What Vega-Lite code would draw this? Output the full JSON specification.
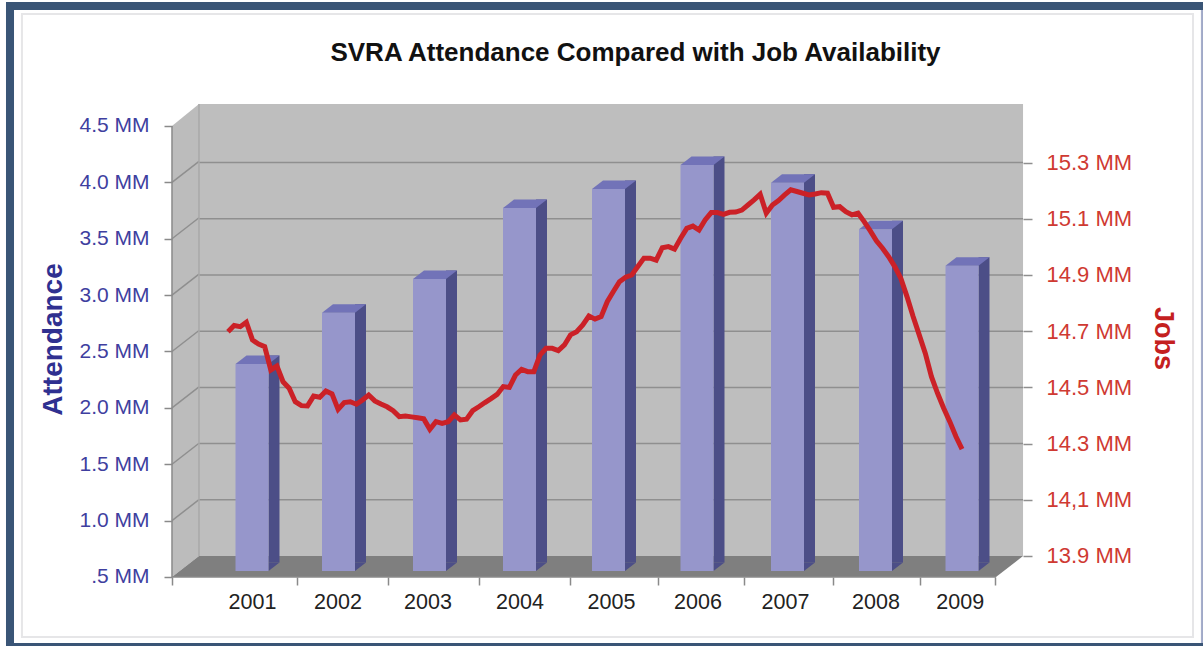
{"$schema":"https://vega.github.io/schema/vega-lite/v6.json","width":1203,"height":646,"padding":0,"autosize":"none","background":"#ffffff","config":{"view":{"stroke":null},"font":"Liberation Sans"},"title":{"text":"SVRA Attendance Compared with Job Availability","anchor":"middle","dx":34,"offset":-66,"font":"Liberation Sans","fontSize":26,"fontWeight":"bold","color":"#111111"},"datasets":{"bars":[{"year":2001,"attendance":2.336},{"year":2002,"attendance":2.791},{"year":2003,"attendance":3.09},{"year":2004,"attendance":3.719},{"year":2005,"attendance":3.888},{"year":2006,"attendance":4.101},{"year":2007,"attendance":3.944},{"year":2008,"attendance":3.531},{"year":2009,"attendance":3.208}],"frame":[{"x":-36.29,"x2":159.39,"y":5.6,"y2":-0.112,"part":"outer"},{"x":-34.98,"x2":159.06,"y":5.529,"y2":-0.085,"part":"inner"}],"border":[{"x":-33.68,"x2":157.76,"y":5.493,"y2":-0.032}],"leftwall":[{"m":-9.155,"t":4.5,"b":0.5},{"m":-4.74,"t":4.695,"b":0.686}],"backwall":[{"m":-4.74,"t":4.695,"b":0.686},{"m":129.97,"t":4.695,"b":0.686}],"floor":[{"m":-9.155,"t":0.5,"b":0.5},{"m":-4.74,"t":0.686,"b":0.5},{"m":125.55,"t":0.686,"b":0.5},{"m":129.97,"t":0.686,"b":0.686}],"grid":[{"jobs":14.1},{"jobs":14.3},{"jobs":14.5},{"jobs":14.7},{"jobs":14.9},{"jobs":15.1},{"jobs":15.3}],"slant":[{"level":1,"m":-9.155,"v":1},{"level":1,"m":-4.74,"v":1.186},{"level":1.5,"m":-9.155,"v":1.5},{"level":1.5,"m":-4.74,"v":1.686},{"level":2,"m":-9.155,"v":2},{"level":2,"m":-4.74,"v":2.186},{"level":2.5,"m":-9.155,"v":2.5},{"level":2.5,"m":-4.74,"v":2.686},{"level":3,"m":-9.155,"v":3},{"level":3,"m":-4.74,"v":3.186},{"level":3.5,"m":-9.155,"v":3.5},{"level":3.5,"m":-4.74,"v":3.686},{"level":4,"m":-9.155,"v":4},{"level":4,"m":-4.74,"v":4.186}],"jobs":[{"m":0,"jobs":14.698},{"m":1,"jobs":14.72},{"m":2,"jobs":14.716},{"m":3,"jobs":14.732},{"m":4,"jobs":14.669},{"m":5,"jobs":14.654},{"m":6,"jobs":14.645},{"m":7,"jobs":14.562},{"m":8,"jobs":14.576},{"m":9,"jobs":14.52},{"m":10,"jobs":14.497},{"m":11,"jobs":14.449},{"m":12,"jobs":14.435},{"m":13,"jobs":14.434},{"m":14,"jobs":14.469},{"m":15,"jobs":14.465},{"m":16,"jobs":14.487},{"m":17,"jobs":14.477},{"m":18,"jobs":14.422},{"m":19,"jobs":14.446},{"m":20,"jobs":14.449},{"m":21,"jobs":14.44},{"m":22,"jobs":14.455},{"m":23,"jobs":14.473},{"m":24,"jobs":14.452},{"m":25,"jobs":14.441},{"m":26,"jobs":14.431},{"m":27,"jobs":14.417},{"m":28,"jobs":14.396},{"m":29,"jobs":14.398},{"m":30,"jobs":14.395},{"m":31,"jobs":14.392},{"m":32,"jobs":14.388},{"m":33,"jobs":14.351},{"m":34,"jobs":14.378},{"m":35,"jobs":14.372},{"m":36,"jobs":14.378},{"m":37,"jobs":14.402},{"m":38,"jobs":14.384},{"m":39,"jobs":14.387},{"m":40,"jobs":14.417},{"m":41,"jobs":14.431},{"m":42,"jobs":14.446},{"m":43,"jobs":14.46},{"m":44,"jobs":14.475},{"m":45,"jobs":14.503},{"m":46,"jobs":14.5},{"m":47,"jobs":14.544},{"m":48,"jobs":14.564},{"m":49,"jobs":14.556},{"m":50,"jobs":14.556},{"m":51,"jobs":14.615},{"m":52,"jobs":14.639},{"m":53,"jobs":14.639},{"m":54,"jobs":14.631},{"m":55,"jobs":14.651},{"m":56,"jobs":14.687},{"m":57,"jobs":14.698},{"m":58,"jobs":14.722},{"m":59,"jobs":14.754},{"m":60,"jobs":14.743},{"m":61,"jobs":14.752},{"m":62,"jobs":14.805},{"m":63,"jobs":14.841},{"m":64,"jobs":14.876},{"m":65,"jobs":14.892},{"m":66,"jobs":14.9},{"m":67,"jobs":14.93},{"m":68,"jobs":14.96},{"m":69,"jobs":14.96},{"m":70,"jobs":14.953},{"m":71,"jobs":14.997},{"m":72,"jobs":15.001},{"m":73,"jobs":14.992},{"m":74,"jobs":15.031},{"m":75,"jobs":15.066},{"m":76,"jobs":15.074},{"m":77,"jobs":15.06},{"m":78,"jobs":15.096},{"m":79,"jobs":15.122},{"m":80,"jobs":15.122},{"m":81,"jobs":15.116},{"m":82,"jobs":15.123},{"m":83,"jobs":15.124},{"m":84,"jobs":15.131},{"m":85,"jobs":15.149},{"m":86,"jobs":15.167},{"m":87,"jobs":15.187},{"m":88,"jobs":15.12},{"m":89,"jobs":15.149},{"m":90,"jobs":15.165},{"m":91,"jobs":15.185},{"m":92,"jobs":15.203},{"m":93,"jobs":15.197},{"m":94,"jobs":15.191},{"m":95,"jobs":15.185},{"m":96,"jobs":15.188},{"m":97,"jobs":15.193},{"m":98,"jobs":15.191},{"m":99,"jobs":15.141},{"m":100,"jobs":15.143},{"m":101,"jobs":15.125},{"m":102,"jobs":15.114},{"m":103,"jobs":15.12},{"m":104,"jobs":15.09},{"m":105,"jobs":15.057},{"m":106,"jobs":15.022},{"m":107,"jobs":14.995},{"m":108,"jobs":14.965},{"m":109,"jobs":14.93},{"m":110,"jobs":14.888},{"m":111,"jobs":14.823},{"m":112,"jobs":14.752},{"m":113,"jobs":14.687},{"m":114,"jobs":14.621},{"m":115,"jobs":14.538},{"m":116,"jobs":14.479},{"m":117,"jobs":14.426},{"m":118,"jobs":14.378},{"m":119,"jobs":14.325},{"m":120,"jobs":14.28}]},"resolve":{"scale":{"x":"independent","y":"independent"},"axis":{"x":"independent","y":"independent"}},"layer":[{"data":{"name":"frame"},"mark":{"type":"rect"},"encoding":{"x":{"field":"x","type":"quantitative","axis":null,"scale":{"domain":[-37.27,159.39],"nice":false,"zero":false}},"x2":{"field":"x2"},"y":{"field":"y","type":"quantitative","axis":null,"scale":{"domain":[-0.112,5.6175],"nice":false,"zero":false}},"y2":{"field":"y2"},"fill":{"field":"part","type":"nominal","legend":null,"scale":{"domain":["outer","inner"],"range":["#3a5576","#ffffff"]}}}},{"data":{"name":"frame"},"transform":[{"filter":"datum.part==='outer'"}],"mark":{"type":"rule","color":"#a6aecb","strokeWidth":2},"encoding":{"x":{"datum":159.22,"type":"quantitative","axis":null,"scale":{"domain":[-37.27,159.39],"nice":false,"zero":false}},"y":{"datum":5.529,"type":"quantitative","axis":null,"scale":{"domain":[-0.112,5.6175],"nice":false,"zero":false}},"y2":{"datum":-0.085}}},{"data":{"name":"border"},"mark":{"type":"rect","fillOpacity":0,"stroke":"#e6e6e8","strokeWidth":2},"encoding":{"x":{"field":"x","type":"quantitative","axis":null,"scale":{"domain":[-37.27,159.39],"nice":false,"zero":false}},"x2":{"field":"x2"},"y":{"field":"y","type":"quantitative","axis":null,"scale":{"domain":[-0.112,5.6175],"nice":false,"zero":false}},"y2":{"field":"y2"}}},{"data":{"name":"leftwall"},"mark":{"type":"area","color":"#bcbcbc"},"encoding":{"x":{"field":"m","type":"quantitative","axis":null,"scale":{"domain":[-37.27,159.39],"nice":false,"zero":false}},"y":{"field":"t","type":"quantitative","stack":null,"axis":null,"scale":{"domain":[-0.112,5.6175],"nice":false,"zero":false}},"y2":{"field":"b"}}},{"data":{"name":"backwall"},"mark":{"type":"area","color":"#bebebe"},"encoding":{"x":{"field":"m","type":"quantitative","axis":null,"scale":{"domain":[-37.27,159.39],"nice":false,"zero":false}},"y":{"field":"t","type":"quantitative","stack":null,"axis":null,"scale":{"domain":[-0.112,5.6175],"nice":false,"zero":false}},"y2":{"field":"b"}}},{"data":{"name":"floor"},"mark":{"type":"area","color":"#7f7f7f"},"encoding":{"x":{"field":"m","type":"quantitative","axis":null,"scale":{"domain":[-37.27,159.39],"nice":false,"zero":false}},"y":{"field":"t","type":"quantitative","stack":null,"axis":null,"scale":{"domain":[-0.112,5.6175],"nice":false,"zero":false}},"y2":{"field":"b"}}},{"data":{"name":"slant"},"mark":{"type":"line","color":"#8f8f8f","strokeWidth":1.5},"encoding":{"x":{"field":"m","type":"quantitative","axis":null,"scale":{"domain":[-37.27,159.39],"nice":false,"zero":false}},"y":{"field":"v","type":"quantitative","axis":null,"scale":{"domain":[-0.112,5.6175],"nice":false,"zero":false}},"detail":{"field":"level","type":"nominal"}}},{"data":{"name":"grid"},"mark":{"type":"rule","color":"#8f8f8f","strokeWidth":1.5},"encoding":{"x":{"datum":-4.74,"type":"quantitative","axis":null,"scale":{"domain":[-37.27,159.39],"nice":false,"zero":false}},"x2":{"datum":129.97},"y":{"field":"jobs","type":"quantitative","axis":{"orient":"right","offset":-180,"zindex":1,"domain":false,"grid":false,"values":[13.9,14.1,14.3,14.5,14.7,14.9,15.1,15.3],"labelExpr":"abs(datum.value-14.1)<0.01?'14,1 MM':format(datum.value,'.1f')+' MM'","labelColor":"#cf3a32","labelFont":"Liberation Sans","labelFontSize":22,"labelPadding":14,"labelOverlap":false,"labelFlush":false,"tickColor":"#8f8f8f","tickSize":9,"tickWidth":1.5,"title":"Jobs","titleColor":"#c4201f","titleFont":"Liberation Sans","titleFontSize":27,"titleFontWeight":"bold","titleAngle":90,"titleX":139,"titleY":338,"titleBaseline":"middle","titleAlign":"center"},"scale":{"domain":[13.5797,15.8786],"nice":false,"zero":false}}}},{"data":{"name":"backwall"},"transform":[{"filter":"datum.m<0"}],"mark":{"type":"rule","color":"#a9a9a9","strokeWidth":1.5},"encoding":{"x":{"field":"m","type":"quantitative","axis":null,"scale":{"domain":[-37.27,159.39],"nice":false,"zero":false}},"y":{"field":"t","type":"quantitative","axis":null,"scale":{"domain":[-0.112,5.6175],"nice":false,"zero":false}},"y2":{"field":"b"}}},{"data":{"name":"leftwall"},"transform":[{"filter":"datum.m<-6"}],"mark":{"type":"rule","color":"#8a8a8a","strokeWidth":1.5},"encoding":{"x":{"field":"m","type":"quantitative","axis":{"orient":"bottom","offset":-69,"zindex":1,"domain":false,"grid":false,"labels":false,"title":null,"values":[-9.155,11.28,26.16,41.03,55.91,70.3,84.35,98.9,113.13,125.39],"tickColor":"#8a8a8a","tickSize":8,"tickWidth":1.5},"scale":{"domain":[-37.27,159.39],"nice":false,"zero":false}},"y":{"field":"t","type":"quantitative","axis":{"orient":"left","offset":-172,"zindex":1,"domain":false,"grid":false,"values":[0.5,1,1.5,2,2.5,3,3.5,4,4.5],"labelExpr":"datum.value==0.5?'.5 MM':format(datum.value,'.1f')+' MM'","labelColor":"#3f3f9f","labelFont":"Liberation Sans","labelFontSize":21,"labelPadding":15,"labelOverlap":false,"labelFlush":false,"tickColor":"#8a8a8a","tickSize":8,"tickWidth":1.5,"title":"Attendance","titleColor":"#2f3090","titleFont":"Liberation Sans","titleFontSize":28,"titleFontWeight":"bold","titleAngle":-90,"titleX":-119,"titleY":339,"titleBaseline":"middle","titleAlign":"center"},"scale":{"domain":[-0.112,5.6175],"nice":false,"zero":false}},"y2":{"field":"b"}}},{"data":{"name":"floor"},"transform":[{"filter":"datum.m>-9 && datum.m<0"}],"mark":{"type":"rule","color":"#8a8a8a","strokeWidth":1.5},"encoding":{"x":{"datum":-9.155,"type":"quantitative","axis":null,"scale":{"domain":[-37.27,159.39],"nice":false,"zero":false}},"x2":{"datum":125.55},"y":{"datum":0.5,"type":"quantitative","axis":null,"scale":{"domain":[-0.112,5.6175],"nice":false,"zero":false}}}},{"data":{"name":"bars"},"mark":{"type":"bar","size":11,"color":"#4c4e87","xOffset":22,"yOffset":-14.5,"y2Offset":-14.5},"encoding":{"x":{"field":"year","type":"quantitative","axis":null,"scale":{"domain":[2001,2002,2003,2004,2005,2006,2007,2008,2009],"range":[252,338.5,429.5,519.5,608.5,697,787.5,875.5,962],"padding":0,"nice":false,"zero":false}},"y":{"field":"attendance","type":"quantitative","stack":null,"axis":null,"scale":{"domain":[-0.112,5.6175],"nice":false,"zero":false}},"y2":{"datum":0.5}}},{"data":{"name":"bars"},"mark":{"type":"point","filled":true,"opacity":1,"size":4,"color":"#4c4e87","strokeWidth":0,"shape":"M16.5 -6 L16.5 -14.5 L27.5 -14.5 Z"},"encoding":{"x":{"field":"year","type":"quantitative","axis":null,"scale":{"domain":[2001,2002,2003,2004,2005,2006,2007,2008,2009],"range":[252,338.5,429.5,519.5,608.5,697,787.5,875.5,962],"padding":0,"nice":false,"zero":false}},"y":{"datum":0.5,"type":"quantitative","axis":null,"scale":{"domain":[-0.112,5.6175],"nice":false,"zero":false}}}},{"data":{"name":"bars"},"mark":{"type":"bar","size":33,"color":"#9696cb","yOffset":-6,"y2Offset":-6},"encoding":{"x":{"field":"year","type":"quantitative","axis":null,"scale":{"domain":[2001,2002,2003,2004,2005,2006,2007,2008,2009],"range":[252,338.5,429.5,519.5,608.5,697,787.5,875.5,962],"padding":0,"nice":false,"zero":false}},"y":{"field":"attendance","type":"quantitative","stack":null,"axis":null,"scale":{"domain":[-0.112,5.6175],"nice":false,"zero":false}},"y2":{"datum":0.5}}},{"data":{"name":"bars"},"mark":{"type":"point","filled":true,"opacity":1,"size":4,"color":"#7273b8","strokeWidth":0,"shape":"M-16.5 -6 L16.5 -6 L27.5 -14.5 L-5.5 -14.5 Z"},"encoding":{"x":{"field":"year","type":"quantitative","axis":null,"scale":{"domain":[2001,2002,2003,2004,2005,2006,2007,2008,2009],"range":[252,338.5,429.5,519.5,608.5,697,787.5,875.5,962],"padding":0,"nice":false,"zero":false}},"y":{"field":"attendance","type":"quantitative","axis":null,"scale":{"domain":[-0.112,5.6175],"nice":false,"zero":false}}}},{"data":{"name":"bars"},"mark":{"type":"point","opacity":0,"size":1},"encoding":{"x":{"field":"year","type":"quantitative","axis":{"orient":"bottom","offset":-69,"zindex":1,"domain":false,"grid":false,"ticks":false,"title":null,"values":[2001,2002,2003,2004,2005,2006,2007,2008,2009],"format":"d","labelColor":"#222222","labelFont":"Liberation Sans","labelFontSize":21.5,"labelPadding":14,"labelOverlap":false,"labelFlush":false},"scale":{"domain":[2001,2002,2003,2004,2005,2006,2007,2008,2009],"range":[252,337.5,427.5,519.5,611,697.5,785,875.5,959.7],"padding":0,"nice":false,"zero":false}},"y":{"field":"attendance","type":"quantitative","axis":null,"scale":{"domain":[-0.112,5.6175],"nice":false,"zero":false}}}},{"data":{"name":"jobs"},"mark":{"type":"line","color":"#cb2127","strokeWidth":5,"strokeJoin":"miter"},"encoding":{"x":{"field":"m","type":"quantitative","axis":null,"scale":{"domain":[-37.27,159.39],"nice":false,"zero":false}},"y":{"field":"jobs","type":"quantitative","axis":null,"scale":{"domain":[13.5797,15.8786],"nice":false,"zero":false}}}}]}
